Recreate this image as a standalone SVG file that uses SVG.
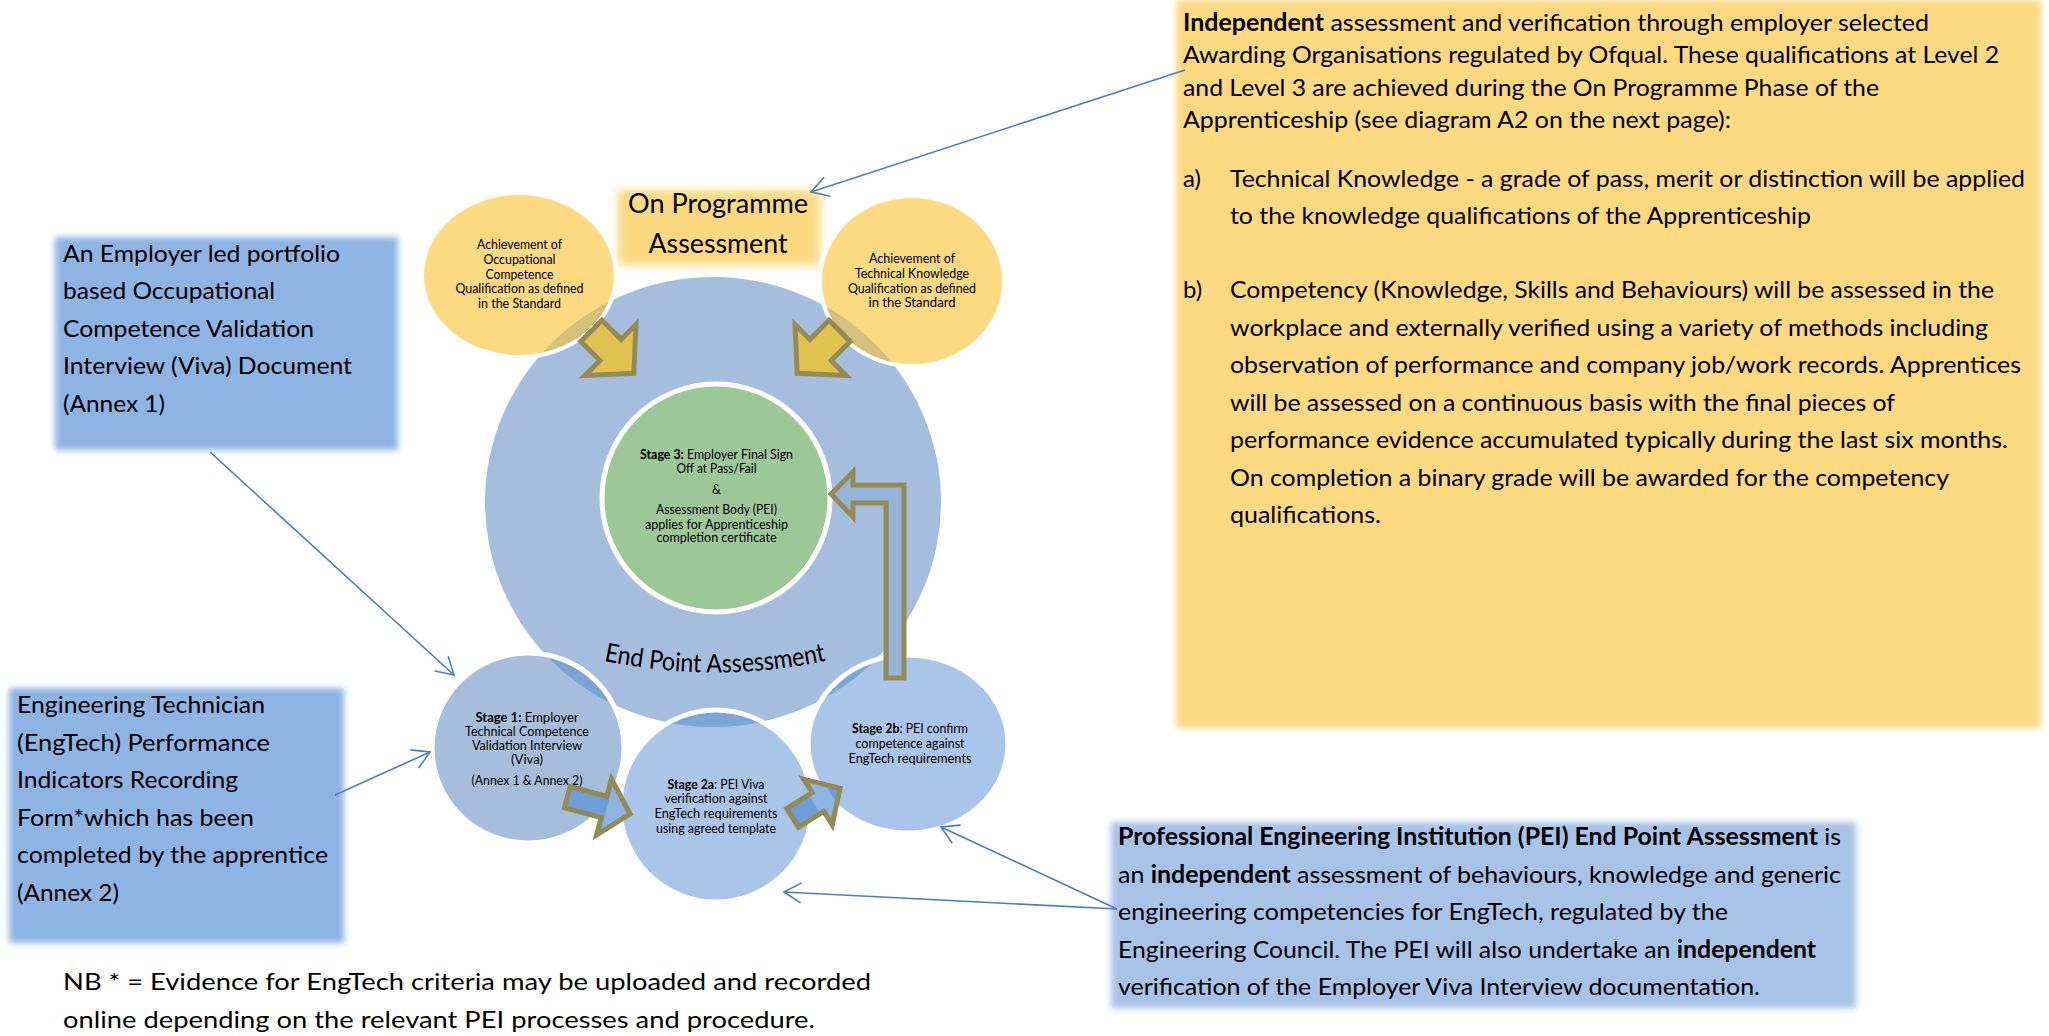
<svg xmlns="http://www.w3.org/2000/svg" width="2049" height="1036" viewBox="0 0 2049 1036">
<defs>
<style>
.t{font-family:Lato,"Liberation Sans",sans-serif;fill:#000;}
.body{font-size:24px;}
.sm{font-size:12.5px;text-anchor:middle;}
.b{font-weight:700;}
.conn{fill:none;stroke:#4A7EBB;stroke-width:1.6;marker-end:url(#open);}
.ring{stroke:#fff;stroke-width:5;}
.blk{stroke:#948A54;stroke-width:5;stroke-linejoin:miter;}
</style>
<filter id="soft" x="-4%" y="-6%" width="108%" height="112%"><feGaussianBlur stdDeviation="3"/></filter>
<filter id="softbig" x="-2%" y="-2%" width="104%" height="104%"><feGaussianBlur stdDeviation="3"/></filter>
<filter id="glow" x="-15%" y="-25%" width="130%" height="150%"><feGaussianBlur stdDeviation="5"/></filter>
<marker id="open" markerUnits="userSpaceOnUse" markerWidth="24" markerHeight="24" refX="0" refY="0" viewBox="-20 -12 24 24" orient="auto">
<path d="M-17,-10 L0,0 L-17,10" fill="none" stroke="#4A7EBB" stroke-width="1.6"/>
</marker>
<clipPath id="c-yl"><ellipse cx="519" cy="275" rx="97" ry="82"/></clipPath>
<clipPath id="c-yr"><ellipse cx="912" cy="281" rx="92" ry="85"/></clipPath>
<clipPath id="c-s1"><ellipse cx="528" cy="748" rx="96" ry="95"/></clipPath>
<clipPath id="c-s2a"><ellipse cx="716" cy="806" rx="96" ry="96"/></clipPath>
<clipPath id="c-s2b"><ellipse cx="908" cy="744" rx="100" ry="89"/></clipPath>
<linearGradient id="g1" x1="0" y1="0" x2="1" y2="0"><stop offset="0" stop-color="#6E9ED6"/><stop offset="0.62" stop-color="#6E9ED6"/><stop offset="0.64" stop-color="#8DB4E3"/><stop offset="1" stop-color="#8DB4E3"/></linearGradient>
<linearGradient id="g2" x1="0" y1="0" x2="1" y2="0"><stop offset="0" stop-color="#6E9ED6"/><stop offset="0.45" stop-color="#6E9ED6"/><stop offset="0.47" stop-color="#8DB4E3"/><stop offset="0.8" stop-color="#8DB4E3"/><stop offset="0.82" stop-color="#6E9ED6"/><stop offset="1" stop-color="#6E9ED6"/></linearGradient>
<path id="epaPath" d="M 580,655 A 530 530 0 0 0 850,655"/>
</defs>

<g id="box-independent">
<rect x="1176" y="0" width="865" height="728" fill="#FDD981" filter="url(#softbig)"/>
<text class="t body" x="1183" y="31" textLength="746" lengthAdjust="spacingAndGlyphs"><tspan class="b">Independent</tspan> assessment and verification through employer selected</text>
<text class="t body" x="1183" y="63" textLength="816" lengthAdjust="spacingAndGlyphs">Awarding Organisations regulated by Ofqual. These qualifications at Level 2</text>
<text class="t body" x="1183" y="96" textLength="696" lengthAdjust="spacingAndGlyphs">and Level 3 are achieved during the On Programme Phase of the</text>
<text class="t body" x="1183" y="128" textLength="548" lengthAdjust="spacingAndGlyphs">Apprenticeship (see diagram A2 on the next page):</text>
<text class="t body" x="1183" y="187">a)</text>
<text class="t body" x="1230" y="187" textLength="795" lengthAdjust="spacingAndGlyphs">Technical Knowledge - a grade of pass, merit or distinction will be applied</text>
<text class="t body" x="1230" y="224" textLength="581" lengthAdjust="spacingAndGlyphs">to the knowledge qualifications of the Apprenticeship</text>
<text class="t body" x="1183" y="298">b)</text>
<text class="t body" x="1230" y="298" textLength="764" lengthAdjust="spacingAndGlyphs">Competency (Knowledge, Skills and Behaviours) will be assessed in the</text>
<text class="t body" x="1230" y="336" textLength="758" lengthAdjust="spacingAndGlyphs">workplace and externally verified using a variety of methods including</text>
<text class="t body" x="1230" y="373" textLength="791" lengthAdjust="spacingAndGlyphs">observation of performance and company job/work records. Apprentices</text>
<text class="t body" x="1230" y="411" textLength="665" lengthAdjust="spacingAndGlyphs">will be assessed on a continuous basis with the final pieces of</text>
<text class="t body" x="1230" y="448" textLength="778" lengthAdjust="spacingAndGlyphs">performance evidence accumulated typically during the last six months.</text>
<text class="t body" x="1230" y="486" textLength="719" lengthAdjust="spacingAndGlyphs">On completion a binary grade will be awarded for the competency</text>
<text class="t body" x="1230" y="523" textLength="151" lengthAdjust="spacingAndGlyphs">qualifications.</text>
</g>

<g id="box-annex1">
<rect x="55" y="237" width="343" height="213" fill="#8EB4E3" filter="url(#soft)"/>
<text class="t body" x="63" y="262" textLength="277" lengthAdjust="spacingAndGlyphs">An Employer led portfolio</text>
<text class="t body" x="63" y="299" textLength="212" lengthAdjust="spacingAndGlyphs">based Occupational</text>
<text class="t body" x="63" y="337" textLength="251" lengthAdjust="spacingAndGlyphs">Competence Validation</text>
<text class="t body" x="63" y="374" textLength="289" lengthAdjust="spacingAndGlyphs">Interview (Viva) Document</text>
<text class="t body" x="63" y="412" textLength="102" lengthAdjust="spacingAndGlyphs">(Annex 1)</text>
</g>

<g id="box-engtech">
<rect x="9" y="688" width="335" height="255" fill="#8EB4E3" filter="url(#soft)"/>
<text class="t body" x="17" y="713" textLength="248" lengthAdjust="spacingAndGlyphs">Engineering Technician</text>
<text class="t body" x="17" y="751" textLength="253" lengthAdjust="spacingAndGlyphs">(EngTech) Performance</text>
<text class="t body" x="17" y="788" textLength="221" lengthAdjust="spacingAndGlyphs">Indicators Recording</text>
<text class="t body" x="17" y="826" textLength="237" lengthAdjust="spacingAndGlyphs">Form*which has been</text>
<text class="t body" x="17" y="863" textLength="311" lengthAdjust="spacingAndGlyphs">completed by the apprentice</text>
<text class="t body" x="17" y="901" textLength="102" lengthAdjust="spacingAndGlyphs">(Annex 2)</text>
</g>

<g id="box-pei">
<rect x="1111" y="822" width="745" height="186" fill="#A7C3E8" filter="url(#soft)"/>
<text class="t body" x="1118" y="845" textLength="723" lengthAdjust="spacingAndGlyphs"><tspan class="b">Professional Engineering Institution (PEI) End Point Assessment</tspan> is</text>
<text class="t body" x="1118" y="883" textLength="723" lengthAdjust="spacingAndGlyphs">an <tspan class="b">independent</tspan> assessment of behaviours, knowledge and generic</text>
<text class="t body" x="1118" y="920" textLength="610" lengthAdjust="spacingAndGlyphs">engineering competencies for EngTech, regulated by the</text>
<text class="t body" x="1118" y="958" textLength="698" lengthAdjust="spacingAndGlyphs">Engineering Council. The PEI will also undertake an <tspan class="b">independent</tspan></text>
<text class="t body" x="1118" y="995" textLength="642" lengthAdjust="spacingAndGlyphs">verification of the Employer Viva Interview documentation.</text>
</g>

<g id="note">
<text class="t body" x="63" y="990" textLength="808" lengthAdjust="spacingAndGlyphs">NB * = Evidence for EngTech criteria may be uploaded and recorded</text>
<text class="t body" x="63" y="1028" textLength="752" lengthAdjust="spacingAndGlyphs">online depending on the relevant PEI processes and procedure.</text>
</g>

<g id="end-point-assessment">
<ellipse cx="713" cy="502" rx="228" ry="225" fill="#A6BEDD"/>
<text class="t" font-size="26"><textPath href="#epaPath" startOffset="50%" text-anchor="middle" textLength="224" lengthAdjust="spacingAndGlyphs">End Point Assessment</textPath></text>
</g>

<g id="on-programme-box">
<rect x="618" y="190" width="202" height="75" fill="#FCD97F" filter="url(#glow)"/>
<text class="t" font-size="27" x="718" y="213" text-anchor="middle" textLength="180" lengthAdjust="spacingAndGlyphs">On Programme</text>
<text class="t" font-size="27" x="718" y="253" text-anchor="middle" textLength="139" lengthAdjust="spacingAndGlyphs">Assessment</text>
</g>

<g id="occupational-competence">
<ellipse cx="519" cy="275" rx="97" ry="82" fill="#FDDA81"/>
<ellipse cx="713" cy="502" rx="228" ry="225" fill="#D5C17C" clip-path="url(#c-yl)"/>
<ellipse cx="519" cy="275" rx="97" ry="82" fill="none" stroke="#fff" stroke-width="4"/>
<text class="t sm" x="519.5" y="249" textLength="85" lengthAdjust="spacingAndGlyphs">Achievement of</text>
<text class="t sm" x="519.5" y="264" textLength="72" lengthAdjust="spacingAndGlyphs">Occupational</text>
<text class="t sm" x="519.5" y="279" textLength="68" lengthAdjust="spacingAndGlyphs">Competence</text>
<text class="t sm" x="519.5" y="293" textLength="128" lengthAdjust="spacingAndGlyphs">Qualification as defined</text>
<text class="t sm" x="519.5" y="308" textLength="83" lengthAdjust="spacingAndGlyphs">in the Standard</text>
</g>

<g id="technical-knowledge">
<ellipse cx="912" cy="281" rx="92" ry="85" fill="#FDDA81"/>
<ellipse cx="713" cy="502" rx="228" ry="225" fill="#D5C17C" clip-path="url(#c-yr)"/>
<ellipse cx="912" cy="281" rx="92" ry="85" fill="none" stroke="#fff" stroke-width="4"/>
<text class="t sm" x="912" y="263" textLength="86" lengthAdjust="spacingAndGlyphs">Achievement of</text>
<text class="t sm" x="912" y="278" textLength="114" lengthAdjust="spacingAndGlyphs">Technical Knowledge</text>
<text class="t sm" x="912" y="293" textLength="128" lengthAdjust="spacingAndGlyphs">Qualification as defined</text>
<text class="t sm" x="912" y="307" textLength="87" lengthAdjust="spacingAndGlyphs">in  the Standard</text>
</g>

<g id="stage3">
<circle cx="716" cy="498" r="114" fill="#9BC896" class="ring"/>
<text class="t sm" x="716.5" y="459" textLength="153" lengthAdjust="spacingAndGlyphs"><tspan class="b">Stage 3:</tspan> Employer Final Sign</text>
<text class="t sm" x="716.5" y="473" textLength="80" lengthAdjust="spacingAndGlyphs">Off at Pass/Fail</text>
<text class="t sm" x="716.5" y="494">&amp;</text>
<text class="t sm" x="716.5" y="514" textLength="121" lengthAdjust="spacingAndGlyphs">Assessment Body (PEI)</text>
<text class="t sm" x="716.5" y="529" textLength="143" lengthAdjust="spacingAndGlyphs">applies for Apprenticeship</text>
<text class="t sm" x="716.5" y="542" textLength="120" lengthAdjust="spacingAndGlyphs">completion certificate</text>
</g>

<g id="yellow-arrows">
<polygon class="blk" fill="#E2C24F" transform="translate(610.5,350) rotate(45)" points="-27,-15 0,-15 0,-36 33,0 0,36 0,15 -27,15"/>
<polygon class="blk" fill="#E2C24F" transform="translate(1431,0) scale(-1,1) translate(610.5,350) rotate(45)" points="-27,-15 0,-15 0,-36 33,0 0,36 0,15 -27,15"/>
</g>

<g id="stage1">
<ellipse cx="528" cy="748" rx="96" ry="95" fill="#A6BEDC"/>
<ellipse cx="713" cy="502" rx="228" ry="225" fill="#7BA3D3" clip-path="url(#c-s1)"/>
<ellipse cx="528" cy="748" rx="96" ry="95" fill="none" class="ring"/>
<text class="t sm" x="527" y="722" textLength="103" lengthAdjust="spacingAndGlyphs"><tspan class="b">Stage 1:</tspan>  Employer</text>
<text class="t sm" x="527" y="736" textLength="124" lengthAdjust="spacingAndGlyphs">Technical Competence</text>
<text class="t sm" x="527" y="750" textLength="110" lengthAdjust="spacingAndGlyphs">Validation Interview</text>
<text class="t sm" x="527" y="764" textLength="32" lengthAdjust="spacingAndGlyphs">(Viva)</text>
<text class="t sm" x="527" y="785" textLength="111" lengthAdjust="spacingAndGlyphs">(Annex 1 &amp; Annex 2)</text>
</g>

<g id="stage2a">
<ellipse cx="716" cy="806" rx="96" ry="96" fill="#A9C5E8"/>
<ellipse cx="713" cy="502" rx="228" ry="225" fill="#7CA6D8" clip-path="url(#c-s2a)"/>
<ellipse cx="716" cy="806" rx="96" ry="96" fill="none" class="ring"/>
<text class="t sm" x="716" y="789" textLength="97" lengthAdjust="spacingAndGlyphs"><tspan class="b">Stage 2a</tspan>: PEI Viva</text>
<text class="t sm" x="716" y="803" textLength="103" lengthAdjust="spacingAndGlyphs">verification against</text>
<text class="t sm" x="716" y="818" textLength="123" lengthAdjust="spacingAndGlyphs">EngTech requirements</text>
<text class="t sm" x="716" y="833" textLength="120" lengthAdjust="spacingAndGlyphs">using agreed template</text>
</g>

<g id="stage2b">
<ellipse cx="908" cy="744" rx="100" ry="89" fill="#A9C6EA"/>
<ellipse cx="713" cy="502" rx="228" ry="225" fill="#7CA6D8" clip-path="url(#c-s2b)"/>
<ellipse cx="908" cy="744" rx="100" ry="89" fill="none" class="ring"/>
<text class="t sm" x="910" y="733" textLength="116" lengthAdjust="spacingAndGlyphs"><tspan class="b">Stage 2b</tspan>: PEI confirm</text>
<text class="t sm" x="910" y="748" textLength="109" lengthAdjust="spacingAndGlyphs">competence against</text>
<text class="t sm" x="910" y="763" textLength="123" lengthAdjust="spacingAndGlyphs">EngTech requirements</text>
</g>

<g id="flow-arrows">
<polygon class="blk" fill="url(#g1)" transform="translate(604,807) rotate(15)" points="-38,-11 0,-11 0,-29 27,0 0,29 0,11 -38,11"/>
<polygon class="blk" fill="url(#g2)" transform="translate(818,802) rotate(-32)" points="-30,-11 0,-11 0,-27 26,0 0,27 0,11 -30,11"/>
<path class="blk" fill="#95B3D7" d="M831,494 L853,472 L853,485 L904,485 L904,678 L886,678 L886,503 L853,503 L853,517 Z"/>
</g>

<g id="connectors">
<line class="conn" x1="1185" y1="70" x2="811" y2="192"/>
<line class="conn" x1="210" y1="452" x2="454" y2="675"/>
<line class="conn" x1="335" y1="795" x2="430" y2="752"/>
<line class="conn" x1="1117" y1="909" x2="941" y2="827"/>
<line class="conn" x1="1117" y1="909" x2="784" y2="892"/>
</g>
</svg>
